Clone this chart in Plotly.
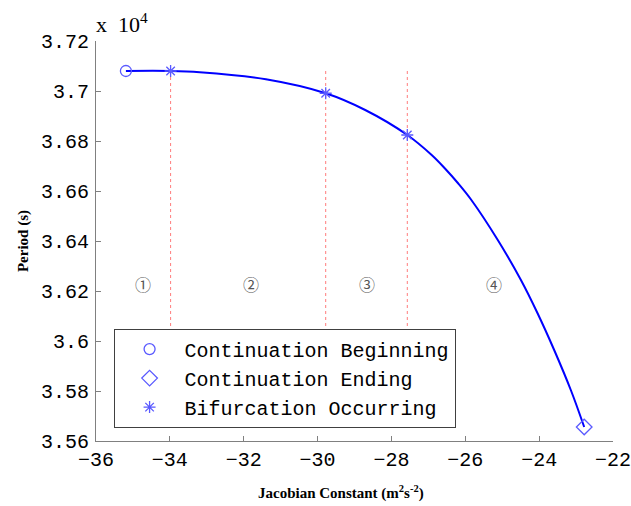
import plotly.graph_objects as go

# Continuation family: Jacobian constant (m^2 s^-2) vs orbital period (s)
jacobi = [-35.19, -33.98, -33.19, -31.40, -29.78, -28.71, -27.57, -26.91,
          -26.55, -26.19, -25.84, -25.12, -24.49, -24.04, -23.59, -23.14, -22.78]
period = [37080, 37080, 37075, 37047, 36991, 36924, 36824, 36744,
          36690, 36630, 36565, 36404, 36243, 36110, 35963, 35803, 35656]

# Special points along the family
begin_x, begin_y = [-35.19], [37080]
end_x, end_y = [-22.78], [35656]
bif_x = [-33.98, -29.78, -27.57]
bif_y = [37080, 36991, 36824]

# Region labels between bifurcations
region_labels = ["①", "②", "③", "④"]
region_x = [-34.72, -31.80, -28.66, -25.22]
region_y = 36230

ytick_vals = [35600, 35800, 36000, 36200, 36400, 36600, 36800, 37000, 37200]
ytick_text = ["3.56", "3.58", "3.6", "3.62", "3.64", "3.66", "3.68", "3.7", "3.72"]
xtick_vals = [-36, -34, -32, -30, -28, -26, -24, -22]

BLUE = "#0000ff"
MARK = "#5a5aff"
MONO = "Liberation Mono"
SERIF = "Liberation Serif"

fig = go.Figure()

# Dotted red separators at each bifurcation, spanning the period range
for bx in bif_x:
    fig.add_trace(go.Scatter(
        x=[bx, bx], y=[max(period), min(period)], mode="lines",
        line=dict(color="#ff7c7c", width=1, dash="dot"),
        showlegend=False, hoverinfo="skip"))

fig.add_trace(go.Scatter(
    x=jacobi, y=period, mode="lines",
    line=dict(color=BLUE, width=2, shape="spline", smoothing=1.0),
    showlegend=False))

fig.add_trace(go.Scatter(
    x=begin_x, y=begin_y, mode="markers", name="Continuation Beginning",
    marker=dict(symbol="circle-open", size=11, color=MARK, line=dict(width=1.3, color=MARK))))
fig.add_trace(go.Scatter(
    x=end_x, y=end_y, mode="markers", name="Continuation Ending",
    marker=dict(symbol="diamond-open", size=12, color=MARK, line=dict(width=1.3, color=MARK))))
fig.add_trace(go.Scatter(
    x=bif_x, y=bif_y, mode="markers", name="Bifurcation Occurring",
    marker=dict(symbol="asterisk-open", size=10, color=MARK, line=dict(width=1.3, color=MARK))))

for lab, rx in zip(region_labels, region_x):
    fig.add_annotation(x=rx, y=region_y, text=lab, showarrow=False,
                       font=dict(family="Noto Sans CJK SC", size=16, color="#555555"))

# Exponent label above the y axis
fig.add_annotation(xref="paper", yref="paper", x=-0.003, y=1.0, xanchor="left", yanchor="bottom",
                   yshift=2, text="x  10<sup>4</sup>", showarrow=False,
                   font=dict(family=SERIF, size=22, color="black"))

# Axis titles
fig.add_annotation(xref="paper", yref="paper", x=0.473, y=-0.128, xanchor="center", yanchor="middle",
                   text="<b>Jacobian Constant (m<sup>2</sup>s<sup>-2</sup>)</b>", showarrow=False,
                   font=dict(family=SERIF, size=15, color="black"))
fig.add_annotation(xref="paper", yref="paper", x=-0.141, y=0.5, xanchor="center", yanchor="middle",
                   text="<b>Period (s)</b>", textangle=-90, showarrow=False,
                   font=dict(family=SERIF, size=15, color="black"))

axis_common = dict(showgrid=False, zeroline=False, showline=True, linecolor="#808080",
                   linewidth=1, ticks="inside", ticklen=5, tickcolor="#808080",
                   tickfont=dict(family=MONO, size=20, color="black"), mirror=False,
                   ticklabeloverflow="allow", automargin=False)

fig.update_xaxes(range=[-36, -22], tickvals=xtick_vals, **axis_common)
fig.update_yaxes(range=[35600, 37200], tickvals=ytick_vals, ticktext=ytick_text,
                 ticklabelstandoff=2, **axis_common)

fig.update_layout(
    width=631, height=506,
    margin=dict(l=96, r=18, t=41, b=65, autoexpand=False),
    paper_bgcolor="white", plot_bgcolor="white",
    showlegend=True,
    legend=dict(x=0.034, y=0.281, xanchor="left", yanchor="top",
                bgcolor="white", bordercolor="#404040", borderwidth=1,
                font=dict(family=MONO, size=20, color="black"),
                itemwidth=60, tracegroupgap=0),
)

fig.write_html("out.html")
